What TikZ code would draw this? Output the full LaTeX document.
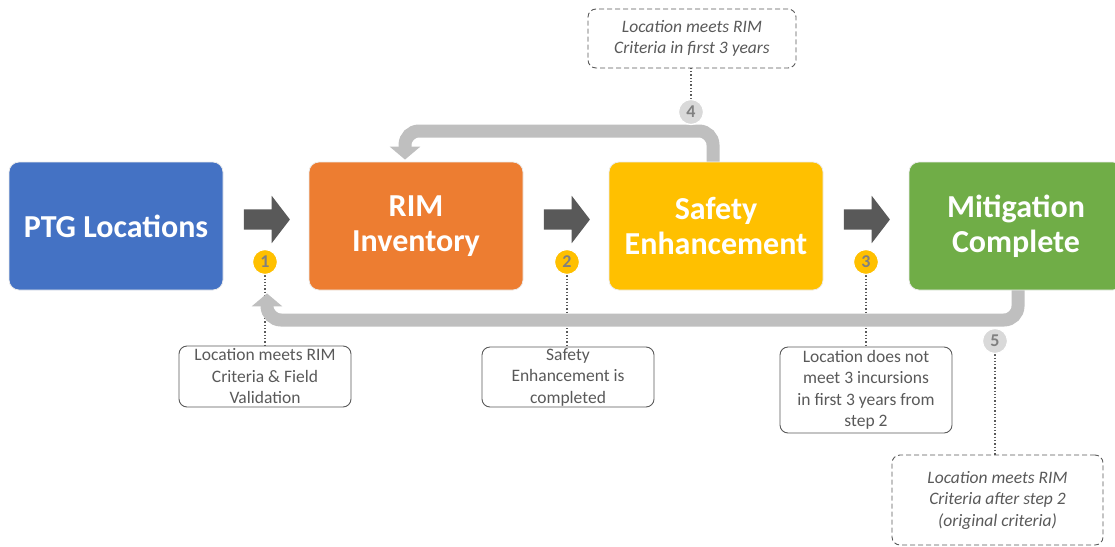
\documentclass[tikz,border=0pt]{standalone}
\usepackage{fontspec}
\setmainfont{Carlito}
\usetikzlibrary{arrows.meta,positioning,shapes.arrows,calc}

\definecolor{ptgblue}{HTML}{4472C4}
\definecolor{rimorange}{HTML}{ED7D31}
\definecolor{safeyellow}{HTML}{FFC000}
\definecolor{mitgreen}{HTML}{70AD47}
\definecolor{darkarrow}{HTML}{595959}
\definecolor{bandgray}{HTML}{BFBFBF}
\definecolor{circgray}{HTML}{D9D9D9}
\definecolor{txtgray}{HTML}{595959}

\tikzset{
  stage/.style={rounded corners=10pt, minimum width=214pt, minimum height=128pt,
    text=white, font=\fontsize{32}{35}\selectfont\bfseries, align=center,
    draw=white!85!gray, line width=0.8pt},
  blockarrow/.style={single arrow, fill=darkarrow, minimum height=46pt,
    inner xsep=0pt, inner ysep=10pt, single arrow head extend=13.5pt,
    single arrow tip angle=105},
  stepnum/.style={circle, minimum size=25pt, inner sep=0pt, draw=white,
    line width=1.2pt, text=gray, font=\fontsize{18}{18}\selectfont\bfseries},
  note/.style={rounded corners=8pt, draw=txtgray, line width=0.9pt, text=txtgray,
    align=center, font=\fontsize{17.5}{21.5}\selectfont, inner sep=0pt},
  dashnote/.style={note, dash pattern=on 5pt off 3pt,
    font=\fontsize{17.5}{21.5}\selectfont\itshape},
  dotline/.style={draw=txtgray, dotted, line width=1.3pt},
  loopband/.style={draw=bandgray, line width=13pt, rounded corners=14pt,
    -{Triangle[width=30pt,length=13pt]}},
}

\begin{document}
\begin{tikzpicture}[x=1pt,y=-1pt]
  \useasboundingbox (0,0) rectangle (1115,546);

  % stages
  \node[stage, fill=ptgblue] (ptg) at (116,226) {PTG Locations};
  \node[stage, fill=rimorange] (rim) at (416,226) {RIM\\Inventory};
  \node[stage, fill=safeyellow] (safe) at (716,226) {Safety\\Enhancement};
  \node[stage, fill=mitgreen] (mit) at (1016,226) {Mitigation\\Complete};

  % forward arrows
  \node[blockarrow] (go1) at (263,219.5) {};
  \node[blockarrow] (go2) at (563,219.5) {};
  \node[blockarrow] (go3) at (863,219.5) {};

  % notes
  \node[note, minimum width=172pt, minimum height=61pt] (t1) at (265,376.5)
    {Location meets RIM\\Criteria \& Field\\Validation};
  \node[note, minimum width=172pt, minimum height=60pt] (t2) at (568,377)
    {Safety\\Enhancement is\\completed};
  \node[note, minimum width=172pt, minimum height=86pt] (t3) at (866,390)
    {Location does not\\meet 3 incursions\\in first 3 years from\\step 2};
  \node[dashnote, minimum width=208pt, minimum height=59pt] (d4) at (692,38.5)
    {Location meets RIM\\Criteria in first 3 years};
  \node[dashnote, minimum width=211pt, minimum height=90pt] (d5) at (997.5,500)
    {Location meets RIM\\Criteria after step 2\\(original criteria)};

  % step numbers (placed first, drawn over later)
  \coordinate (n1) at (265,262);
  \coordinate (n2) at (567,262);
  \coordinate (n3) at (866,262);
  \coordinate (n4) at (691,112);
  \coordinate (n5) at (995,341);

  % dotted leaders
  \draw[dotline] (n1) -- (n1 |- t1.north);
  \draw[dotline] (n2) -- (n2 |- t2.north);
  \draw[dotline] (n3) -- (n3 |- t3.north);
  \draw[dotline] (n4) -- (n4 |- d4.south);
  \draw[dotline] (n5) -- (n5 |- d5.north);

  % loop back bands
  \coordinate (l4a) at (713,131);
  \coordinate (l4b) at (405,131);
  \draw[loopband] (safe.north -| l4a) -- (l4a) -- (l4b)
    -- ([yshift=2pt]l4b |- rim.north);
  \coordinate (l5a) at (1018,320);
  \coordinate (l5b) at (267,320);
  \draw[loopband] (mit.south -| l5a) -- (l5a) -- (l5b)
    -- ([yshift=-3pt]l5b |- ptg.south);

  \node[stepnum, fill=safeyellow] (c1) at (n1) {1};
  \node[stepnum, fill=safeyellow] (c2) at (n2) {2};
  \node[stepnum, fill=safeyellow] (c3) at (n3) {3};
  \node[stepnum, fill=circgray] (c4) at (n4) {4};
  \node[stepnum, fill=circgray] (c5) at (n5) {5};
\end{tikzpicture}
\end{document}
